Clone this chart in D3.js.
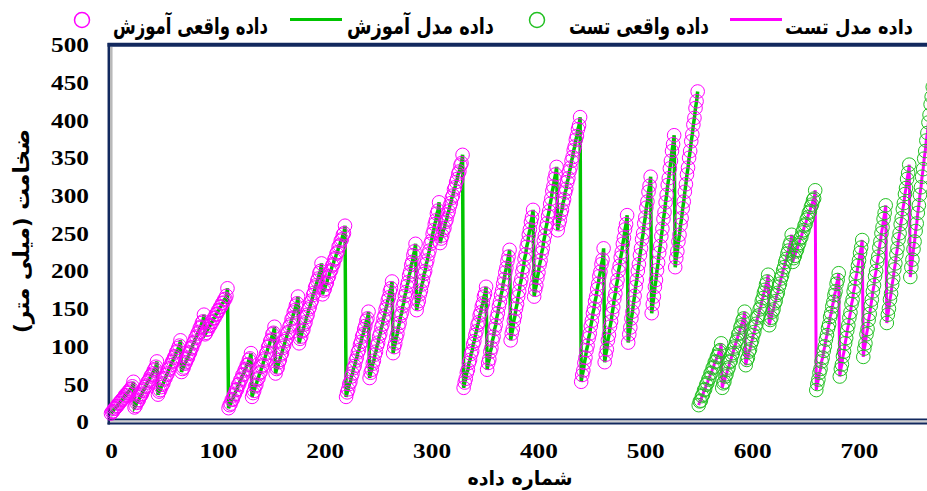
<!DOCTYPE html>
<html>
<head>
<meta charset="utf-8">
<script src="https://cdn.jsdelivr.net/npm/d3@7"></script>
<style>
  body { margin: 0; background: #fff; }
  svg { display: block; }
  .num { font-family: 'Times New Roman', 'Liberation Serif', serif; font-weight: bold; font-size: 22px; }
  .fa { font-family: 'DejaVu Sans', sans-serif; font-weight: bold; }
</style>
</head>
<body>
<svg id="chart" width="927" height="491"></svg>
<script>
// measured values, one array per cycle of 110 samples (5 teeth x 22)
const trainCycle1 = [
  10,12,13,16,17,19,20,23,24,26,28,29,31,34,34,37,38,40,42,43,46,52,
  18,20,24,26,28,32,34,36,40,42,45,47,51,53,55,59,61,63,67,69,72,79,
  35,39,41,45,48,50,55,57,61,63,68,70,74,78,80,84,86,91,93,97,100,107,
  65,69,71,76,78,82,84,89,91,96,98,103,105,110,112,116,118,123,125,130,132,141,
  115,117,121,122,126,127,131,132,136,137,141,142,146,147,151,152,156,157,161,162,166,176
];
const trainCycle2 = [
  17,21,23,28,29,34,36,41,42,48,49,54,56,61,62,67,69,74,75,81,83,90,
  32,37,40,46,48,55,57,63,65,72,74,80,83,89,91,98,100,106,108,115,117,125,
  63,69,71,78,81,88,90,97,100,106,109,116,118,125,128,135,137,144,147,153,156,165,
  103,109,112,119,121,128,131,138,141,148,151,157,160,167,170,177,180,186,189,196,199,209,
  168,173,175,181,183,190,192,198,200,206,208,214,216,222,224,231,233,239,241,247,249,259
];
const trainCycle3 = [
  32,38,42,49,52,59,63,70,73,80,84,91,94,101,105,112,115,122,126,133,136,145,
  57,64,68,76,80,88,92,100,104,112,116,124,128,136,140,148,152,160,164,172,176,185,
  90,98,103,111,116,125,130,139,143,152,157,166,171,179,184,193,198,207,211,220,225,235,
  147,155,159,168,173,181,186,195,199,208,213,221,226,235,239,248,253,261,266,275,279,290,
  236,242,246,253,256,264,267,274,278,285,289,296,299,307,310,317,321,328,331,339,342,353
];
const trainCycle4 = [
  44,51,56,64,68,77,81,89,93,102,106,114,119,127,131,140,144,152,156,165,169,178,
  68,77,82,92,97,107,112,122,127,137,143,152,158,167,173,182,188,197,203,212,218,227,
  107,116,122,133,139,149,155,165,172,182,188,198,204,215,221,231,237,247,254,264,270,280,
  165,174,180,190,197,207,213,223,229,239,246,256,262,272,278,288,295,305,311,321,327,337,
  253,261,266,275,280,289,294,303,308,317,322,331,336,345,350,359,364,373,378,387,392,403
];
const trainCycle5 = [
  52,61,67,77,84,94,100,110,116,126,133,143,149,159,165,175,182,192,198,208,214,229,
  78,88,95,107,114,125,132,143,151,162,169,180,187,199,206,217,224,235,243,254,261,273,
  104,115,124,136,145,157,166,178,187,199,208,220,229,241,249,262,270,283,291,304,312,324,
  143,155,165,178,187,200,210,223,232,245,255,268,277,290,300,313,322,335,345,358,367,379,
  204,216,225,238,247,260,269,282,291,304,314,327,336,349,358,371,380,393,402,415,424,437
];
const testCycle1 = [
  21,26,27,33,35,41,42,48,50,55,57,63,64,70,72,78,79,85,87,92,94,103,
  44,50,52,59,62,68,71,78,80,87,90,96,99,105,108,115,117,124,127,133,136,145,
  74,81,84,92,95,103,107,114,118,125,129,137,140,148,151,159,163,170,174,181,185,194,
  127,134,137,145,148,156,159,167,170,178,182,189,193,200,204,211,215,222,226,233,237,247,
  211,216,219,225,227,233,236,242,244,250,253,259,261,267,270,276,278,284,287,293,295,306
];
const testCycle2 = [
  41,49,55,64,69,79,84,93,99,108,114,123,128,138,143,152,158,167,172,182,187,196,
  59,69,75,86,92,103,110,120,127,137,144,155,161,172,178,189,196,206,213,223,230,240,
  85,96,103,115,122,134,142,153,161,172,180,192,199,211,218,230,238,249,257,268,276,286,
  130,141,149,161,169,181,189,201,209,221,229,241,249,261,269,281,289,301,309,321,329,340,
  191,204,214,228,238,252,262,276,286,300,310,324,334,348,358,372,382,396,406,420,430,443
];

const testStart = 550;
const yTicks = [0, 50, 100, 150, 200, 250, 300, 350, 400, 450, 500];
const xTicks = [0, 100, 200, 300, 400, 500, 600, 700];
const legendLabels = ['داده واقعی آموزش', 'داده مدل آموزش', 'داده واقعی تست', 'داده مدل تست'];
const yTitle = 'ضخامت (میلی متر)';
const xTitle = 'شماره داده';

const trainActual = [].concat(trainCycle1, trainCycle2, trainCycle3, trainCycle4, trainCycle5);
const testActual = [].concat(testCycle1, testCycle2);
// model output sits on top of the measured points at this resolution
const trainModel = trainActual;
const testModel = testActual;

const magenta = '#ff00ff';
const green = '#00c400';
const greenDot = '#22c022';
const navy = '#12295e';

const svg = d3.select('#chart');

const x = d3.scaleLinear().domain([0, 764]).range([111, 927.4]);
const y = d3.scaleLinear().domain([0, 500]).range([421, 44]);

// plot frame (double line bottom, grey inner edge on the left)
svg.append('line').attr('x1', 107.5).attr('x2', 940).attr('y1', 44.8).attr('y2', 44.8)
  .attr('stroke', navy).attr('stroke-width', 4);
svg.append('line').attr('x1', 108.8).attr('x2', 108.8).attr('y1', 43).attr('y2', 424.5)
  .attr('stroke', navy).attr('stroke-width', 2.5);
svg.append('line').attr('x1', 111.3).attr('x2', 111.3).attr('y1', 47).attr('y2', 421)
  .attr('stroke', '#b8b8b8').attr('stroke-width', 2.5);
svg.append('line').attr('x1', 110).attr('x2', 940).attr('y1', 419.5).attr('y2', 419.5)
  .attr('stroke', navy).attr('stroke-width', 2);
svg.append('line').attr('x1', 110).attr('x2', 940).attr('y1', 421.5).attr('y2', 421.5)
  .attr('stroke', '#cfcfcf').attr('stroke-width', 2);
svg.append('line').attr('x1', 107.5).attr('x2', 940).attr('y1', 423.5).attr('y2', 423.5)
  .attr('stroke', navy).attr('stroke-width', 2);

// training series
const trainLine = d3.line().x((d, i) => x(i)).y(d => y(d));
svg.append('path').datum(trainModel).attr('d', trainLine)
  .attr('fill', 'none').attr('stroke', green).attr('stroke-width', 3.5);
svg.append('g').selectAll('circle').data(trainActual).enter().append('circle')
  .attr('cx', (d, i) => x(i)).attr('cy', d => y(d)).attr('r', 6.8)
  .attr('fill', 'none').attr('stroke', magenta).attr('stroke-width', 1);

// test series
const testLine = d3.line().x((d, i) => x(testStart + i)).y(d => y(d));
svg.append('path').datum(testModel).attr('d', testLine)
  .attr('fill', 'none').attr('stroke', magenta).attr('stroke-width', 3);
svg.append('g').selectAll('circle').data(testActual).enter().append('circle')
  .attr('cx', (d, i) => x(testStart + i)).attr('cy', d => y(d)).attr('r', 6.8)
  .attr('fill', 'none').attr('stroke', greenDot).attr('stroke-width', 1);

// axes
const yAxis = svg.append('g').attr('transform', 'translate(107,0)')
  .call(d3.axisLeft(y).tickValues(yTicks).tickSize(0).tickPadding(0));
yAxis.attr('font-family', null).attr('font-size', null);
yAxis.select('.domain').remove();
yAxis.selectAll('text')
  .attr('class', 'num')
  .attr('x', 0).attr('dy', '0.35em')
  .attr('transform', 'translate(-18,0) scale(1.15,1)')
  .attr('fill', '#000');

const xAxis = svg.append('g').attr('transform', 'translate(0,421)')
  .call(d3.axisBottom(x).tickValues(xTicks).tickSize(0).tickPadding(21));
xAxis.attr('font-family', null).attr('font-size', null);
xAxis.select('.domain').remove();
xAxis.selectAll('text')
  .attr('class', 'num')
  .attr('transform', 'scale(1.15,1)')
  .attr('fill', '#000');

// axis titles
svg.append('text').text(yTitle)
  .attr('class', 'fa')
  .attr('transform', 'translate(29,231) rotate(-90)')
  .attr('text-anchor', 'middle').attr('direction', 'rtl')
  .attr('textLength', 204).attr('lengthAdjust', 'spacingAndGlyphs')
  .style('font-size', '22px');
svg.append('text').text(xTitle)
  .attr('class', 'fa')
  .attr('x', 520).attr('y', 485)
  .attr('text-anchor', 'middle').attr('direction', 'rtl')
  .attr('textLength', 105).attr('lengthAdjust', 'spacingAndGlyphs')
  .style('font-size', '20px');

// legend
const legendLayout = [
  { sym: 'circle', color: magenta, sx: 82, tx: 190.5, len: 155, fs: 23 },
  { sym: 'line', color: green, sx: 316, tx: 420.5, len: 147, fs: 23 },
  { sym: 'circle', color: greenDot, sx: 537, tx: 639, len: 140, fs: 23 },
  { sym: 'line', color: magenta, sx: 756, tx: 849, len: 128, fs: 20 }
];
const legend = svg.append('g');
legendLabels.forEach((label, i) => {
  const l = legendLayout[i];
  if (l.sym === 'circle') {
    legend.append('circle').attr('cx', l.sx).attr('cy', 20).attr('r', 7.5)
      .attr('fill', 'none').attr('stroke', l.color).attr('stroke-width', 1.5);
  } else {
    legend.append('line').attr('x1', l.sx - 26).attr('x2', l.sx + 26)
      .attr('y1', 19.5).attr('y2', 19.5).attr('stroke', l.color).attr('stroke-width', 3);
  }
  legend.append('text').text(label)
    .attr('class', 'fa')
    .attr('x', l.tx).attr('y', 34)
    .attr('text-anchor', 'middle').attr('direction', 'rtl')
    .attr('textLength', l.len).attr('lengthAdjust', 'spacingAndGlyphs')
    .style('font-size', l.fs + 'px');
});
</script>
</body>
</html>
